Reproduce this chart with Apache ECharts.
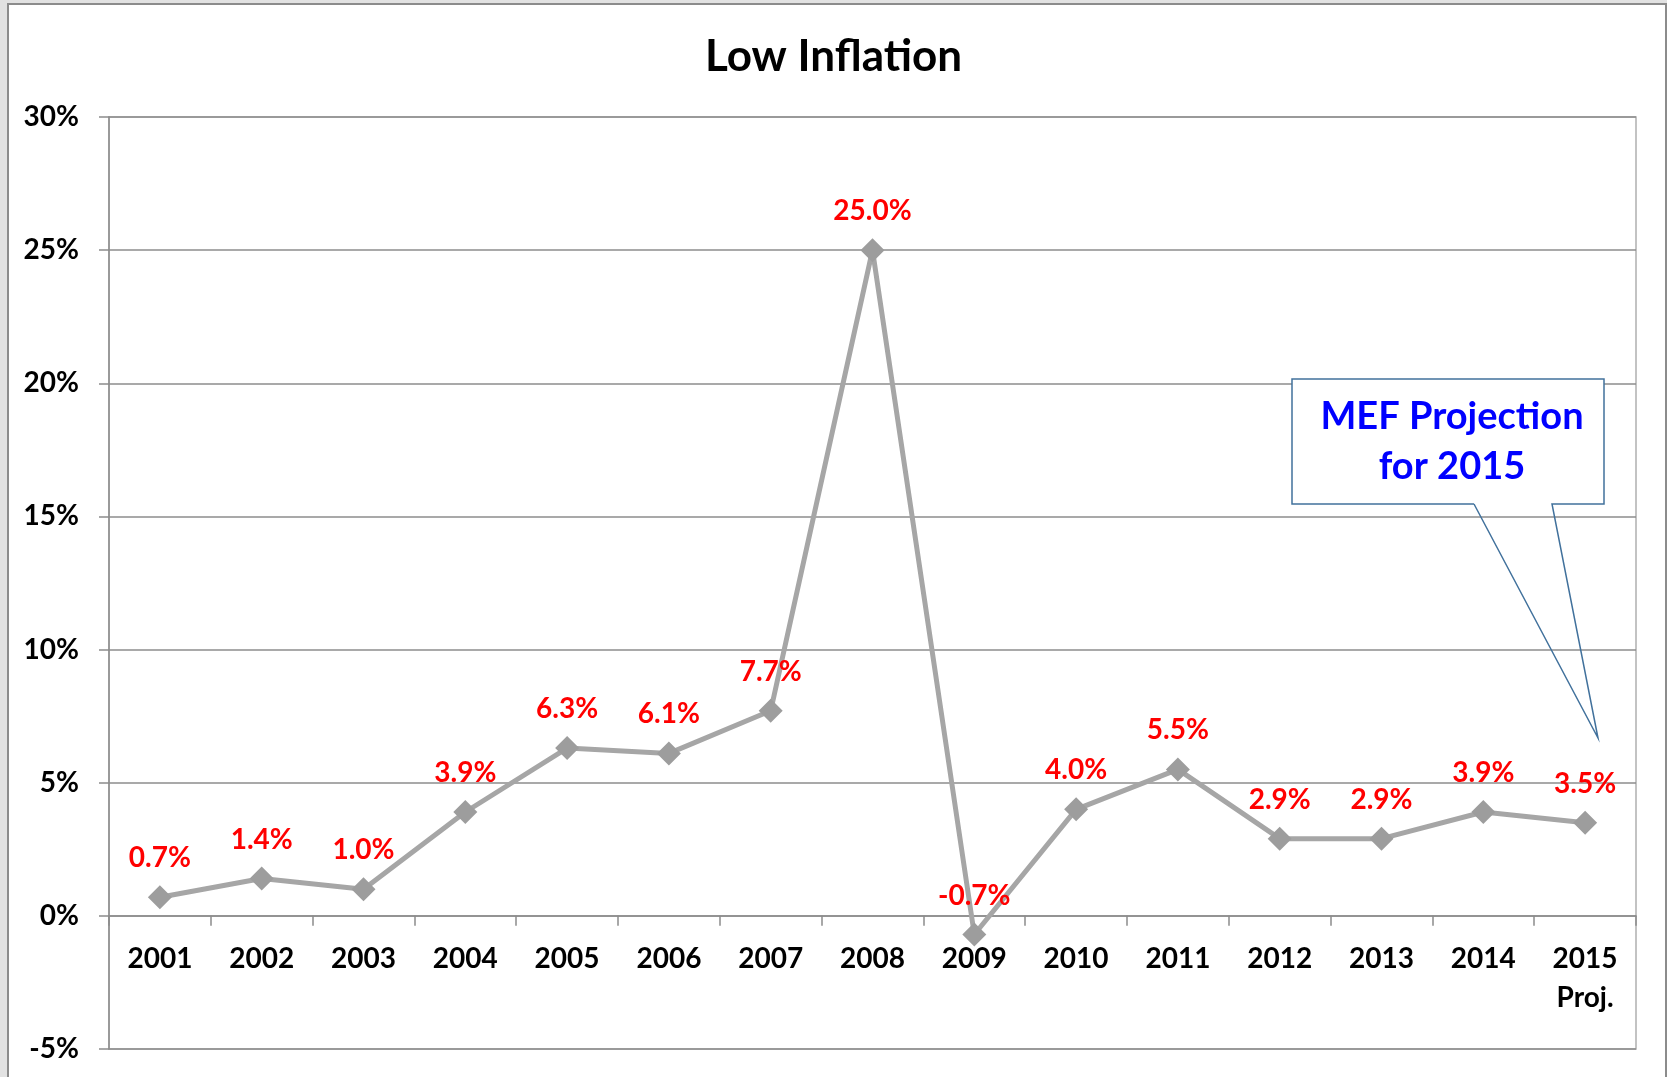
<!DOCTYPE html>
<html>
<head>
<meta charset="utf-8">
<title>Low Inflation</title>
<script src="https://cdn.jsdelivr.net/npm/echarts@6/dist/echarts.min.js"></script>
<style>
  html, body { margin: 0; padding: 0; background: #e2e2e2; }
  #frame {
    position: absolute; left: 7px; top: 3px; right: 0; bottom: 0;
    background: #fff;
    border-left: 2px solid #8c8c8c;
    border-top: 2px solid #8c8c8c;
    border-right: 2px solid #8c8c8c;
  }
  #chart { position: absolute; left: 0; top: 0; width: 1667px; height: 1077px; }
</style>
</head>
<body>
<div id="frame"></div>
<div id="chart"></div>
<script>
// 年份 (x轴)
var years = ['2001', '2002', '2003', '2004', '2005', '2006', '2007', '2008',
  '2009', '2010', '2011', '2012', '2013', '2014', '2015\nProj.'];
// inflation, %
var inflation = [0.7, 1.4, 1.0, 3.9, 6.3, 6.1, 7.7, 25.0, -0.7, 4.0, 5.5, 2.9, 2.9, 3.9, 3.5];
// y轴刻度
var yMin = -5;
var yMax = 30;
var yStep = 5;

var FONT = 'Lato, "Open Sans", sans-serif';
var W = 1667, H = 1077;
var gridTop = 117, gridBottom = 28;
// x轴放在 0% 处：按 y 轴范围算出偏移量
var gridH = H - gridTop - gridBottom;
var xOffset = -gridH * (0 - yMin) / (yMax - yMin);

var myChart = echarts.init(document.getElementById('chart'));

var options = {
  backgroundColor: 'transparent',
  animation: false,
  title: {
    text: 'Low Inflation',
    left: 'center',
    top: 30,
    textStyle: { fontFamily: FONT, fontWeight: 'bold', fontSize: 44, color: '#000' }
  },
  grid: {
    left: 109,
    right: 31,
    top: gridTop,
    bottom: gridBottom,
    containLabel: false,
    outerBoundsMode: 'none',
    show: true,
    borderColor: '#b0b0b0',
    borderWidth: 1.5
  },
  xAxis: {
    type: 'category',
    data: years,
    boundaryGap: true,
    position: 'bottom',
    offset: xOffset,
    axisLine: { onZero: false, lineStyle: { color: '#8c8c8c', width: 1.5 } },
    axisTick: { show: true, length: 10, lineStyle: { color: '#8c8c8c', width: 1.5 } },
    axisLabel: {
      margin: 24,
      fontFamily: FONT,
      fontWeight: 'bold',
      fontSize: 28,
      lineHeight: 39,
      color: '#000'
    },
    splitLine: { show: false }
  },
  yAxis: {
    type: 'value',
    min: yMin,
    max: yMax,
    interval: yStep,
    axisLine: { show: true, lineStyle: { color: '#8c8c8c', width: 1.5 } },
    axisTick: { show: true, length: 10, lineStyle: { color: '#8c8c8c', width: 1.5 } },
    axisLabel: {
      margin: 30,
      formatter: '{value}%',
      fontFamily: FONT,
      fontWeight: 'bold',
      fontSize: 28,
      color: '#000'
    },
    splitLine: { show: true, lineStyle: { color: '#8c8c8c', width: 1.5 } }
  },
  series: [
    {
      name: 'Inflation',
      type: 'line',
      data: inflation,
      symbol: 'diamond',
      symbolSize: 24,
      z: 3,
      lineStyle: { color: '#a6a6a6', width: 5 },
      itemStyle: { color: '#9d9d9d' },
      label: {
        show: true,
        position: 'top',
        distance: 13,
        formatter: function (p) { return p.value.toFixed(1) + '%'; },
        fontFamily: FONT,
        fontWeight: 'bold',
        fontSize: 28,
        color: '#ff0000'
      }
    }
  ],
  graphic: [
    {
      type: 'rect',
      z: 100,
      shape: { x: 1292, y: 379, width: 312, height: 125 },
      style: { fill: '#fff', stroke: null }
    },
    {
      type: 'polyline',
      z: 101,
      shape: {
        points: [[1474, 504], [1292, 504], [1292, 379], [1604, 379], [1604, 504],
          [1552, 504], [1598, 738], [1474, 504]]
      },
      style: { stroke: '#41719c', lineWidth: 1.5, fill: null }
    },
    {
      type: 'text',
      z: 102,
      style: {
        text: 'MEF Projection\nfor 2015',
        x: 1452,
        y: 442,
        align: 'center',
        verticalAlign: 'middle',
        lineHeight: 50,
        font: 'bold 38px ' + FONT,
        fill: '#0000ff'
      }
    }
  ]
};

myChart.setOption(options);
</script>
</body>
</html>
